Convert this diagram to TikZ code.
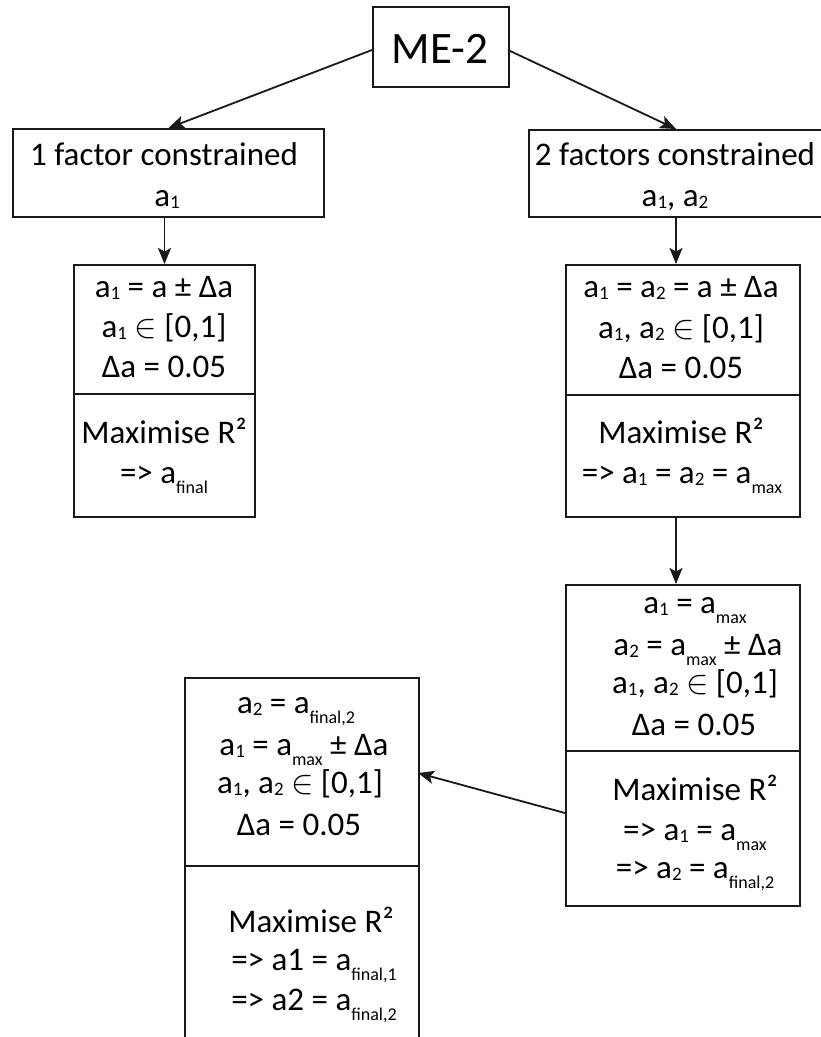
\documentclass[tikz,border=0pt]{standalone}
\usepackage{fontspec}
\setmainfont{Carlito}
\usetikzlibrary{arrows.meta}
\newcommand{\mysd}[1]{\raisebox{-2pt}{\fontsize{19}{19}\selectfont #1}}
\newcommand{\mylo}[1]{\smash{\raisebox{-10pt}{\fontsize{18}{18}\selectfont #1}}}
\newcommand{\myin}{\scalebox{1.35}{$\in$}}
\begin{document}
\begin{tikzpicture}[x=1pt,y=-1pt,
  box/.style={draw=black!90, line width=2pt, inner sep=0pt, anchor=north west, fill=white},
  txt/.style={inner sep=0pt, anchor=base, font=\fontsize{33}{40}\selectfont},
  arr/.style={draw=black!90, line width=1.8pt, -{Stealth[length=16pt,width=13pt,inset=3.5pt]}}]
\useasboundingbox (0,0) rectangle (821,1037);
\fill[white] (0,0) rectangle (821,1037);
% boxes
\node[box, minimum width=136pt, minimum height=80pt] (me) at (372,6) {};
\node[box, minimum width=311pt, minimum height=88pt] (b1) at (12,128) {};
\node[box, minimum width=294pt, minimum height=87pt] (b2) at (528,129) {};
\node[box, minimum width=181pt, minimum height=129pt] (s1t) at (73,264) {};
\node[box, minimum width=181pt, minimum height=123pt] (s1b) at (73,393) {};
\node[box, minimum width=234pt, minimum height=130pt] (s2t) at (565,264) {};
\node[box, minimum width=234pt, minimum height=122pt] (s2b) at (565,394) {};
\node[box, minimum width=234pt, minimum height=166pt] (s3t) at (565,584) {};
\node[box, minimum width=234pt, minimum height=155pt] (s3b) at (565,750) {};
\node[box, minimum width=234pt, minimum height=188pt] (s4t) at (184,677) {};
\node[box, minimum width=234pt, minimum height=190pt] (s4b) at (184,865) {};
% texts
\node[txt, font=\fontsize{45}{54}\selectfont] (tme) at (440,63) {ME-2};
\node[txt] (t1a) at (164,165) {1 factor constrained};
\node[txt] (t1b) at (167,206) {a\mysd{1}};
\node[txt] (t2a) at (675,165) {2 factors constrained};
\node[txt] (t2b) at (675,206) {a\mysd{1}, a\mysd{2}};
\node[txt] (u1) at (164,297) {a\mysd{1} = a ± Δa};
\node[txt] (u2) at (164,337) {a\mysd{1} \myin{} [0,1]};
\node[txt] (u3) at (164,377) {Δa = 0.05};
\node[txt] (u4) at (164,443) {Maximise R²};
\node[txt] (u5) at (164,483) {=> a\mylo{final}};
\node[txt] (v1) at (681,297) {a\mysd{1} = a\mysd{2} = a ± Δa};
\node[txt] (v2) at (681,338) {a\mysd{1}, a\mysd{2} \myin{} [0,1]};
\node[txt] (v3) at (681,378) {Δa = 0.05};
\node[txt] (v4) at (681,443) {Maximise R²};
\node[txt] (v5) at (682,483) {=> a\mysd{1} = a\mysd{2} = a\mylo{max}};
\node[txt] (w1) at (695,613) {a\mysd{1} = a\mylo{max}};
\node[txt] (w2) at (698,655) {a\mysd{2} = a\mylo{max} ± Δa};
\node[txt] (w3) at (695,693) {a\mysd{1}, a\mysd{2} \myin{} [0,1]};
\node[txt] (w4) at (694,735) {Δa = 0.05};
\node[txt] (w5) at (695,800) {Maximise R²};
\node[txt] (w6) at (695,840) {=> a\mysd{1} = a\mylo{max}};
\node[txt] (w7) at (695,878) {=> a\mysd{2} = a\mylo{final,2}};
\node[txt] (z1) at (296,713) {a\mysd{2} = a\mylo{final,2}};
\node[txt] (z2) at (304,755) {a\mysd{1} = a\mylo{max} ± Δa};
\node[txt] (z3) at (300,793) {a\mysd{1}, a\mysd{2} \myin{} [0,1]};
\node[txt] (z4) at (299,835) {Δa = 0.05};
\node[txt] (z5) at (311,932) {Maximise R²};
\node[txt] (z6) at (314,970) {=> a1 = a\mylo{final,1}};
\node[txt] (z7) at (314,1010) {=> a2 = a\mylo{final,2}};
% connectors
\coordinate (p1) at (372,50);
\coordinate (p2) at (508,50);
\coordinate (p6) at (565,813);
\coordinate (q6) at (418,773);
\draw[arr] (p1) -- (b1.north);
\draw[arr] (p2) -- (b2.north);
\draw[arr] (s1t.north |- b1.south) -- (s1t.north);
\draw[arr] (b2.south) -- (b2.south |- s2t.north);
\draw[arr] (b2.south |- s2b.south) -- (b2.south |- s3t.north);
\draw[arr] (p6) -- (q6);
\end{tikzpicture}
\end{document}
